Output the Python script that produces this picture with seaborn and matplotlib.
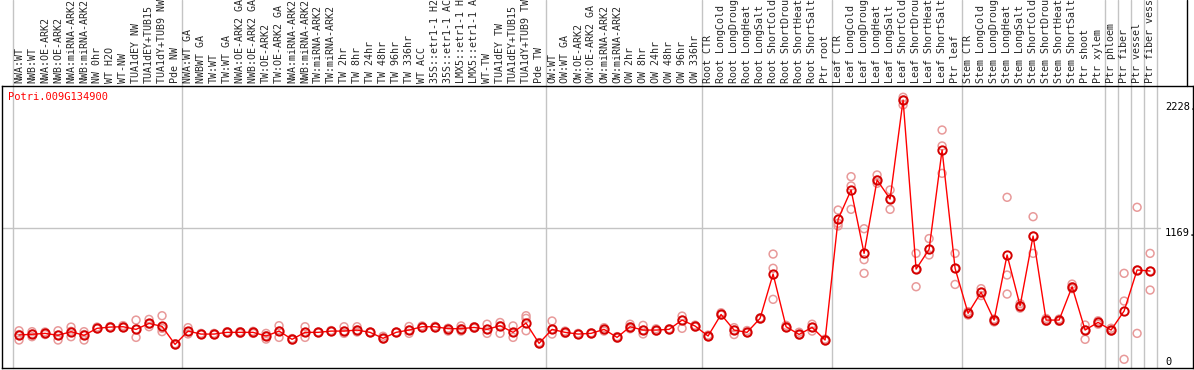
import pandas as pd
import seaborn as sns
import matplotlib.pyplot as plt
from matplotlib.lines import Line2D
from matplotlib import transforms

gene_id = "Potri.009G134900"

sample_labels = [
    # wood / NW
    "NWA:WT", "NWB:WT", "NWA:OE-ARK2", "NWB:OE-ARK2", "NWA:miRNA-ARK2", "NWB:miRNA-ARK2",
    "NW 0hr", "WT H2O", "WT-NW", "TUA1dEY NW", "TUA1dEY+TUB15", "TUA1dY+TUB9 NW", "Pde NW",
    # TW
    "NWA:WT GA", "NWBWT GA", "TW:WT", "TW:WT GA", "NWA:OE-ARK2 GA", "NWB:OE-ARK2 GA",
    "TW:OE-ARK2", "TW:OE-ARK2 GA", "NWA:miRNA-ARK2", "NWB:miRNA-ARK2", "TW:miRNA-ARK2",
    "TW:miRNA-ARK2", "TW 2hr", "TW 8hr", "TW 24hr", "TW 48hr", "TW 96hr", "TW 336hr",
    "WT ACC", "35S::etr1-1 H2", "35S::etr1-1 AC", "LMX5::etr1-1 H", "LMX5::etr1-1 A",
    "WT-TW", "TUA1dEY TW", "TUA1dEY+TUB15", "TUA1dY+TUB9 TW", "Pde TW",
    # OW
    "OW:WT", "OW:WT GA", "OW:OE-ARK2", "OW:OE-ARK2 GA", "OW:miRNA-ARK2", "OW:miRNA-ARK2",
    "OW 2hr", "OW 8hr", "OW 24hr", "OW 48hr", "OW 96hr", "OW 336hr",
    # root
    "Root CTR", "Root LongCold", "Root LongDroug", "Root LongHeat", "Root LongSalt",
    "Root ShortCold", "Root ShortDrou", "Root ShortHeat", "Root ShortSalt", "Ptr root",
    # leaf
    "Leaf CTR", "Leaf LongCold", "Leaf LongDroug", "Leaf LongHeat", "Leaf LongSalt",
    "Leaf ShortCold", "Leaf ShortDrou", "Leaf ShortHeat", "Leaf ShortSalt", "Ptr leaf",
    # stem + tissues
    "Stem CTR", "Stem LongCold", "Stem LongDroug", "Stem LongHeat", "Stem LongSalt",
    "Stem ShortCold", "Stem ShortDrou", "Stem ShortHeat", "Stem ShortSalt",
    "Ptr shoot", "Ptr xylem", "Ptr phloem", "Ptr fiber", "Ptr vessel", "Ptr fiber vess",
]

# index after which a gray separator is drawn
group_ends = [-1, 12, 40, 52, 62, 72, 83, 84, 85, 86, 87]

mean_values = [
    236, 242, 250, 233, 265, 233, 294, 305, 308, 285, 337, 311, 154,
    270, 244, 244, 259, 259, 259, 227, 270, 198, 259, 259, 270, 270, 279,
    259, 207, 259, 279, 308, 308, 291, 291, 302, 285, 317, 259, 340, 163,
    285, 259, 244, 250, 285, 215, 308, 279, 279, 285, 366, 314,
    227, 415, 279, 259, 381, 768, 308, 241, 302, 192,
    1245, 1501, 948, 1588, 1422, 2286, 811, 983, 1850, 817,
    425, 608, 366, 934, 491, 1099, 366, 366, 657, 279, 346, 279, 445, 803, 794,
]

replicates = [
    [273, 192, 240], [265, 221, 245], [262, 240, 250], [273, 192, 235], [305, 221, 268],
    [265, 192, 240], [305, 290, 294], [310, 300, 305], [318, 300, 308], [366, 215, 285],
    [372, 308, 330], [404, 294, 265], [160, 150, 154],
    [300, 245, 265], [250, 240, 244], [250, 238, 244], [265, 255, 259], [265, 250, 262],
    [268, 250, 259], [250, 200, 230], [317, 215, 270], [205, 192, 198], [308, 215, 259],
    [262, 255, 259], [275, 265, 270], [308, 250, 270], [308, 262, 279], [262, 255, 259],
    [225, 200, 207], [262, 255, 259], [310, 250, 279], [315, 300, 308], [312, 300, 308],
    [295, 270, 291], [315, 270, 291], [308, 295, 302], [330, 250, 285], [345, 250, 317],
    [315, 215, 259], [404, 381, 273], [170, 158, 163],
    [358, 244, 285], [270, 250, 259], [250, 240, 244], [255, 245, 250], [300, 270, 285],
    [222, 208, 215], [330, 290, 308], [320, 245, 279], [290, 270, 279], [290, 280, 285],
    [401, 294, 366], [322, 305, 314],
    [227, 235, 220], [430, 410, 415], [300, 240, 279], [275, 255, 259], [385, 375, 381],
    [942, 818, 547], [300, 320, 308], [260, 235, 241], [330, 270, 302], [200, 185, 192],
    [1326, 1210, 1187], [1617, 1536, 1332], [1163, 893, 774], [1632, 1559, 1588],
    [1501, 1332, 1422], [2310, 2243, 2286], [948, 657, 811], [1077, 934, 983],
    [2024, 1885, 1646], [948, 677, 817],
    [440, 410, 425], [640, 580, 608], [350, 366, 375], [1437, 759, 593], [510, 470, 491],
    [1268, 948, 1099], [380, 355, 366], [375, 355, 366], [680, 640, 657], [323, 198, 279],
    [360, 330, 346], [295, 270, 279], [774, 532, 24], [1350, 250, 803], [948, 628, 794],
]

axis_values = [2228, 1169, 0]
axis_texts = ["2228.", "1169.", "0"]

sns.set_style("white")
plt.rcParams["font.family"] = ["DejaVu Sans Mono"]

positions = list(range(len(sample_labels)))
df_mean = pd.DataFrame({"pos": positions, "value": mean_values})
rep_rows = []
for i, reps in enumerate(replicates):
    for v in reps:
        rep_rows.append({"pos": i, "value": v})
df_reps = pd.DataFrame(rep_rows)

W, H = 1194, 370
fig = plt.figure(figsize=(W / 100, H / 100), dpi=100)
ax = fig.add_axes([2 / W, 2 / H, 1191 / W, 282 / H])

grid_col = "#c4c4c4"
for g in group_ends:
    ax.axvline(g + 0.5, ymin=0, ymax=1 + 86 / 282, color=grid_col, lw=1,
               clip_on=False, zorder=0)
ax.axhline(1169, xmin=0, xmax=0.972, color=grid_col, lw=1, zorder=0)

sns.scatterplot(data=df_reps, x="pos", y="value", marker="o", s=32,
                color="#e89a9a", linewidth=1.1, ax=ax, zorder=2)
pts = ax.collections[-1]
pts.set_facecolor("none")
pts.set_edgecolor("#e89a9a")

sns.lineplot(data=df_mean, x="pos", y="value", color="#ff0000", lw=1,
             marker="o", markersize=6, markerfacecolor="none",
             markeredgecolor="#d40000", markeredgewidth=1.4, ax=ax, zorder=3)

ax.set_xlim(-1.31, 90.3)
ax.set_ylim(-52, 2408)
ax.set_xticks(positions)
ax.set_xticklabels(sample_labels, rotation=90, fontsize=7.2)
ax.xaxis.tick_top()
ax.tick_params(axis="x", length=0, pad=2)
ax.set_yticks([])
ax.set_xlabel("")
ax.set_ylabel("")
for sp in ax.spines.values():
    sp.set_color("black")
    sp.set_linewidth(1)

blend = transforms.blended_transform_factory(ax.transAxes, ax.transData)
for v, t in zip(axis_values, axis_texts):
    ax.text(0.9765, v, t, transform=blend, fontsize=7.5, color="black",
            va="top" if v == 1169 else "center", ha="left")

ax.text(6 / 1191, 2312, gene_id, transform=blend, color="red", fontsize=7.5,
        va="center", ha="left")

fig.add_artist(Line2D([1187 / W, 1187 / W], [1 - 86 / H, 1], color="black",
                      lw=1, transform=fig.transFigure))

fig.savefig("out.png", dpi=100)
